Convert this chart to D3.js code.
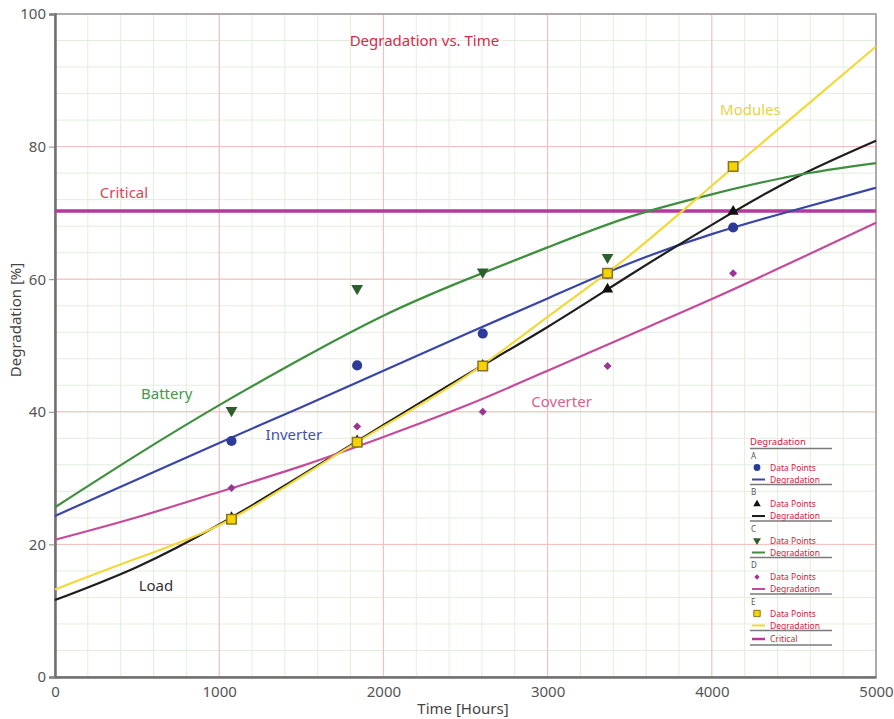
<!DOCTYPE html>
<html>
<head>
<meta charset="utf-8">
<script src="https://cdn.jsdelivr.net/npm/d3@7"></script>
<style>
  body { margin: 0; background: #fff; }
  svg text { font-family: "Noto Sans", "Open Sans", sans-serif; }
</style>
</head>
<body>
<div id="chart"></div>
<script>
var width = 894;
var height = 719;

// hours at which the fitted curves are read
var curveHours = [0, 500, 1000, 1500, 2000, 2500, 3000, 3500, 4000, 4500, 5000];

// fitted degradation curves [%]
var inverterCurve  = [24.3, 29.8, 35.3, 40.7, 46.2, 51.7, 57.1, 62.4, 66.8, 70.4, 73.8];
var loadCurve      = [11.6, 16.6, 23.0, 30.4, 38.0, 45.5, 52.8, 60.6, 68.2, 75.2, 80.9];
var batteryCurve   = [25.6, 33.5, 41.0, 48.0, 54.5, 59.9, 64.8, 69.4, 72.8, 75.6, 77.5];
var converterCurve = [20.7, 24.1, 27.9, 31.8, 36.2, 40.9, 46.2, 51.6, 57.0, 62.7, 68.5];
var modulesCurve   = [13.2, 17.9, 22.9, 30.2, 37.8, 45.3, 54.3, 63.6, 74.1, 84.6, 95.1];

// measured data points
var pointHours     = [1075, 1840, 2605, 3365, 4130];
var inverterPts    = [35.6, 47.0, 51.8, 60.8, 67.8];
var loadPts        = [24.0, 35.6, 47.0, 58.5, 70.2];
var batteryPts     = [40.2, 58.6, 61.1, 63.3];
var converterPts   = [28.5, 37.8, 40.0, 46.9, 60.9];
var modulesPts     = [23.8, 35.4, 46.9, 60.9, 77.0];

var criticalLevel = 70.3;

var xTicks = [0, 1000, 2000, 3000, 4000, 5000];
var yTicks = [0, 20, 40, 60, 80, 100];

var series = [
    { key: "A", name: "Inverter",  curve: inverterCurve,  pts: inverterPts,  color: "#3a46a6", mark: "#2c3a98", stroke: "none",    sym: d3.symbolCircle,   size: 80, rot: 0 },
    { key: "B", name: "Load",      curve: loadCurve,      pts: loadPts,      color: "#1e1e1e", mark: "#111",    stroke: "none",    sym: d3.symbolTriangle, size: 55, rot: 0 },
    { key: "C", name: "Battery",   curve: batteryCurve,   pts: batteryPts,   color: "#3f8f3f", mark: "#2d5e2d", stroke: "none",    sym: d3.symbolTriangle, size: 60, rot: 180 },
    { key: "D", name: "Coverter",  curve: converterCurve, pts: converterPts, color: "#c64a9c", mark: "#9b3495", stroke: "none",    sym: d3.symbolSquare,   size: 32, rot: 45 },
    { key: "E", name: "Modules",   curve: modulesCurve,   pts: modulesPts,   color: "#f3d83a", mark: "#f7d400", stroke: "#8a7424", sym: d3.symbolSquare,   size: 90, rot: 0 }
];

var xScale = d3.scaleLinear().domain([0, 5000]).range([55, 876]);
var yScale = d3.scaleLinear().domain([0, 100]).range([677, 14]);

var svg = d3.select("#chart")
    .append("svg")
    .attr("width", width)
    .attr("height", height);

// grid: minor green, major red
var minorX = d3.range(0, 5001, 200);
var minorY = d3.range(0, 101, 4);

svg.append("g").selectAll("line")
    .data(minorX)
    .enter()
    .append("line")
    .attr("x1", function(d) { return xScale(d); })
    .attr("x2", function(d) { return xScale(d); })
    .attr("y1", yScale(0))
    .attr("y2", yScale(100))
    .attr("stroke", "#e2eedd")
    .attr("stroke-width", 1);

svg.append("g").selectAll("line")
    .data(minorY)
    .enter()
    .append("line")
    .attr("x1", xScale(0))
    .attr("x2", xScale(5000))
    .attr("y1", function(d) { return yScale(d); })
    .attr("y2", function(d) { return yScale(d); })
    .attr("stroke", "#e2eedd")
    .attr("stroke-width", 1);

svg.append("g").selectAll("line")
    .data(xTicks)
    .enter()
    .append("line")
    .attr("x1", function(d) { return xScale(d); })
    .attr("x2", function(d) { return xScale(d); })
    .attr("y1", yScale(0))
    .attr("y2", yScale(100))
    .attr("stroke", "#f2bcbc")
    .attr("stroke-width", 1);

svg.append("g").selectAll("line")
    .data(yTicks)
    .enter()
    .append("line")
    .attr("x1", xScale(0))
    .attr("x2", xScale(5000))
    .attr("y1", function(d) { return yScale(d); })
    .attr("y2", function(d) { return yScale(d); })
    .attr("stroke", "#f2bcbc")
    .attr("stroke-width", 1);

// frame
svg.append("rect")
    .attr("x", xScale(0))
    .attr("y", yScale(100))
    .attr("width", xScale(5000) - xScale(0))
    .attr("height", yScale(0) - yScale(100))
    .attr("fill", "none")
    .attr("stroke", "#9a9a9a")
    .attr("stroke-width", 1.5);

// axes
var xAxis = d3.axisBottom(xScale).tickValues(xTicks).tickSize(0).tickPadding(9).tickFormat(d3.format("d"));
var yAxis = d3.axisLeft(yScale).tickValues(yTicks).tickSize(6).tickPadding(3);

var xAxisG = svg.append("g")
    .attr("transform", "translate(0," + yScale(0) + ")")
    .call(xAxis);
var yAxisG = svg.append("g")
    .attr("transform", "translate(" + xScale(0) + ",0)")
    .call(yAxis);

[xAxisG, yAxisG].forEach(function(g) {
    g.select(".domain").attr("stroke", "#707070").attr("stroke-width", 2.5);
    g.selectAll(".tick line").attr("stroke", "#888");
    g.selectAll(".tick text")
        .attr("fill", "#555")
        .style("font-size", "15px");
});

svg.append("text")
    .attr("x", 463)
    .attr("y", 714)
    .attr("text-anchor", "middle")
    .attr("fill", "#444")
    .style("font-size", "15px")
    .text("Time [Hours]");

svg.append("text")
    .attr("transform", "translate(21,320) rotate(-90)")
    .attr("text-anchor", "middle")
    .attr("fill", "#444")
    .style("font-size", "15px")
    .text("Degradation [%]");

// critical line
svg.append("line")
    .attr("x1", xScale(0))
    .attr("x2", xScale(5000))
    .attr("y1", yScale(criticalLevel))
    .attr("y2", yScale(criticalLevel))
    .attr("stroke", "#b5379f")
    .attr("stroke-width", 3.5);

// curves
var line = d3.line()
    .x(function(d) { return xScale(d[0]); })
    .y(function(d) { return yScale(d[1]); })
    .curve(d3.curveNatural);

series.forEach(function(s) {
    var pts = curveHours.map(function(h, i) { return [h, s.curve[i]]; });
    svg.append("path")
        .datum(pts)
        .attr("fill", "none")
        .attr("stroke", s.color)
        .attr("stroke-width", 2.2)
        .attr("d", line);
});

// data points (drawn so squares sit on top)
series.forEach(function(s) {
    svg.append("g").selectAll("path")
        .data(s.pts)
        .enter()
        .append("path")
        .attr("d", d3.symbol().type(s.sym).size(s.size))
        .attr("transform", function(d, i) {
            return "translate(" + xScale(pointHours[i]) + "," + yScale(d) + ") rotate(" + s.rot + ")";
        })
        .attr("fill", s.mark)
        .attr("stroke", s.stroke)
        .attr("stroke-width", 1.5);
});

// in-plot labels
var labels = [
    { text: "Degradation vs. Time", x: 2250, y: 95.1, color: "#d42a4e" },
    { text: "Critical",  x: 420,  y: 72.3, color: "#da4656" },
    { text: "Battery",   x: 680,  y: 41.9, color: "#3f9a4c" },
    { text: "Inverter",  x: 1455, y: 35.8, color: "#4650b0" },
    { text: "Coverter",  x: 3085, y: 40.7, color: "#d8628e" },
    { text: "Load",      x: 615,  y: 12.9, color: "#333" },
    { text: "Modules",   x: 4235, y: 84.7, color: "#e6d24a" }
];

svg.append("g").selectAll("text")
    .data(labels)
    .enter()
    .append("text")
    .attr("x", function(d) { return xScale(d.x); })
    .attr("y", function(d) { return yScale(d.y); })
    .attr("text-anchor", "middle")
    .attr("fill", function(d) { return d.color; })
    .style("font-size", "15px")
    .text(function(d) { return d.text; });

// legend
var legendG = svg.append("g").attr("transform", "translate(750,0)");
var legendRed = "#d0203c";
var legendGray = "#7a7a7a";

legendG.append("text")
    .attr("x", 0).attr("y", 445)
    .attr("fill", legendRed)
    .style("font-size", "9.5px")
    .text("Degradation");
legendG.append("line")
    .attr("x1", 0).attr("x2", 82).attr("y1", 448.5).attr("y2", 448.5)
    .attr("stroke", legendGray).attr("stroke-width", 1.5);

series.forEach(function(s, i) {
    var top = 457 + i * 36.5;
    legendG.append("text")
        .attr("x", 1).attr("y", top + 1.5)
        .attr("fill", "#555")
        .style("font-size", "8px")
        .text(s.key);
    legendG.append("path")
        .attr("d", d3.symbol().type(s.sym).size(s.size * 0.45))
        .attr("transform", "translate(7," + (top + 10.5) + ") rotate(" + s.rot + ")")
        .attr("fill", s.mark)
        .attr("stroke", s.stroke)
        .attr("stroke-width", 1);
    legendG.append("text")
        .attr("x", 20).attr("y", top + 13.5)
        .attr("fill", legendRed)
        .style("font-size", "8.5px")
        .text("Data Points");
    legendG.append("line")
        .attr("x1", 2).attr("x2", 15).attr("y1", top + 22.5).attr("y2", top + 22.5)
        .attr("stroke", s.color).attr("stroke-width", 2);
    legendG.append("text")
        .attr("x", 20).attr("y", top + 25.5)
        .attr("fill", legendRed)
        .style("font-size", "8.5px")
        .text("Degradation");
    legendG.append("line")
        .attr("x1", 0).attr("x2", 82).attr("y1", top + 27.5).attr("y2", top + 27.5)
        .attr("stroke", legendGray).attr("stroke-width", 1.5);
});

legendG.append("line")
    .attr("x1", 2).attr("x2", 15).attr("y1", 639).attr("y2", 639)
    .attr("stroke", "#b5379f").attr("stroke-width", 2.5);
legendG.append("text")
    .attr("x", 20).attr("y", 641.5)
    .attr("fill", legendRed)
    .style("font-size", "8.5px")
    .text("Critical");
legendG.append("line")
    .attr("x1", 0).attr("x2", 82).attr("y1", 645).attr("y2", 645)
    .attr("stroke", legendGray).attr("stroke-width", 1.5);
</script>
</body>
</html>
